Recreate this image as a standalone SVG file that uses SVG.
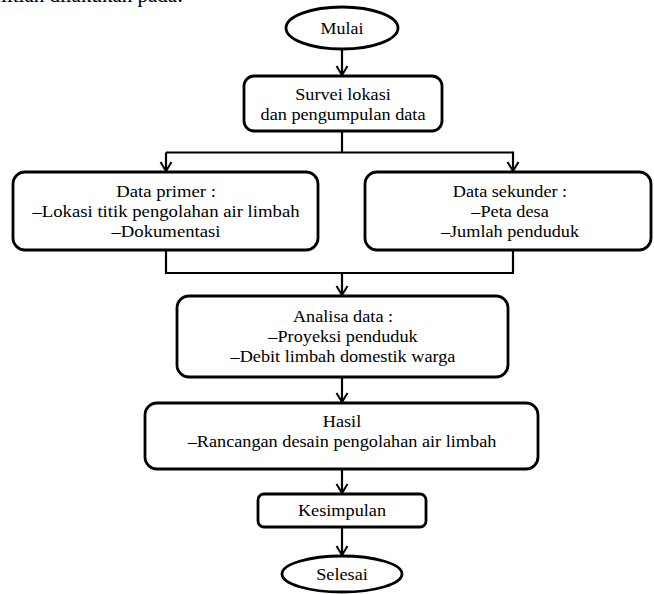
<svg xmlns="http://www.w3.org/2000/svg" width="654" height="594" viewBox="0 0 654 594">
<style>
.box{fill:#fff;stroke:#000;stroke-width:2.8}
.ln{fill:none;stroke:#000;stroke-width:2.2}
text{font-family:'Liberation Serif','DejaVu Serif','Noto Serif',serif;fill:#000}
.t{font-size:16px;text-anchor:middle}
.top{font-size:21px;text-anchor:end}
</style>
<defs>
<marker id="arr" viewBox="-11 -7 13 14" refX="0" refY="0" markerWidth="13" markerHeight="14" markerUnits="userSpaceOnUse" orient="auto">
<path d="M-9,-5.5 L0,0 L-9,5.5" fill="none" stroke="#000" stroke-width="2"/>
</marker>
</defs>
<rect width="654" height="594" fill="#fff"/>
<text class="top" x="183" y="2" font-family="Liberation Serif, DejaVu Serif, serif">Tahapan penelitian dilakukan pada:</text>

<g id="connectors">
<line class="ln" x1="342" y1="49" x2="342" y2="75" marker-end="url(#arr)"/>
<polyline class="ln" points="342,131 342,152.5"/>
<polyline class="ln" points="166,152.5 513,152.5 513,171" marker-end="url(#arr)"/>
<line class="ln" x1="166" y1="152.5" x2="166" y2="171" marker-end="url(#arr)"/>
<polyline class="ln" points="166,250 166,273 513,273 513,251"/>
<line class="ln" x1="342" y1="273" x2="342" y2="295" marker-end="url(#arr)"/>
<line class="ln" x1="342" y1="377" x2="342" y2="402" marker-end="url(#arr)"/>
<line class="ln" x1="342" y1="469" x2="342" y2="493" marker-end="url(#arr)"/>
<line class="ln" x1="342" y1="527" x2="342" y2="555" marker-end="url(#arr)"/>
</g>

<g id="mulai">
<ellipse class="box" cx="342" cy="28" rx="56" ry="21"/>
<text class="t" transform="translate(342,34) scale(1.12,1)">Mulai</text>
</g>

<g id="survei">
<rect class="box" x="244" y="76" width="198" height="55" rx="10"/>
<text class="t" transform="translate(343,100) scale(1.14,1)">Survei lokasi</text>
<text class="t" transform="translate(343,120) scale(1.14,1)">dan pengumpulan data</text>
</g>

<g id="data-primer">
<rect class="box" x="13" y="172" width="305" height="78" rx="12"/>
<text class="t" transform="translate(166,197) scale(1.17,1)">Data primer :</text>
<text class="t" transform="translate(166,217) scale(1.17,1)">–Lokasi titik pengolahan air limbah</text>
<text class="t" transform="translate(166,237) scale(1.17,1)">–Dokumentasi</text>
</g>

<g id="data-sekunder">
<rect class="box" x="365" y="172" width="286" height="78" rx="12"/>
<text class="t" transform="translate(510,197) scale(1.14,1)">Data sekunder :</text>
<text class="t" transform="translate(510,217) scale(1.14,1)">–Peta desa</text>
<text class="t" transform="translate(510,237) scale(1.14,1)">–Jumlah penduduk</text>
</g>

<g id="analisa">
<rect class="box" x="177" y="296" width="331" height="81" rx="12"/>
<text class="t" transform="translate(343,322) scale(1.14,1)">Analisa data :</text>
<text class="t" transform="translate(343,342) scale(1.14,1)">–Proyeksi penduduk</text>
<text class="t" transform="translate(343,362) scale(1.14,1)">–Debit limbah domestik warga</text>
</g>

<g id="hasil">
<rect class="box" x="145" y="403" width="393" height="66" rx="12"/>
<text class="t" transform="translate(342,427) scale(1.14,1)">Hasil</text>
<text class="t" transform="translate(342,447) scale(1.14,1)">–Rancangan desain pengolahan air limbah</text>
</g>

<g id="kesimpulan">
<rect class="box" x="258" y="494" width="168" height="33" rx="6"/>
<text class="t" transform="translate(342,516) scale(1.14,1)">Kesimpulan</text>
</g>

<g id="selesai">
<ellipse class="box" cx="342" cy="574" rx="60" ry="18"/>
<text class="t" transform="translate(342,580) scale(1.14,1)">Selesai</text>
</g>
</svg>
